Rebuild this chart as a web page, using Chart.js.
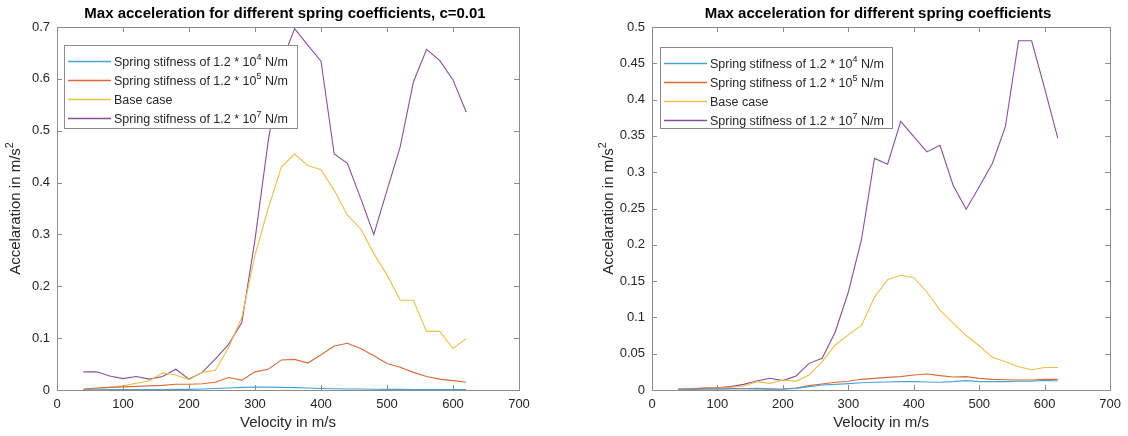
<!DOCTYPE html>
<html>
<head>
<meta charset="utf-8">
<title>Max acceleration for different spring coefficients</title>
<script src="https://cdn.jsdelivr.net/npm/chart.js"></script>
<style>
  body { margin: 0; background: #ffffff; }
  #wrap { position: relative; width: 1128px; height: 436px; }
  canvas { position: absolute; top: 0; }
</style>
</head>
<body>
<div id="wrap">
  <canvas id="left" width="564" height="436" style="left:0"></canvas>
  <canvas id="right" width="564" height="436" style="left:564px"></canvas>
</div>
<script>
// velocity samples (m/s), shared by both runs
var velocity = [40, 60, 80, 100, 120, 140, 160, 180, 200, 220, 240, 260, 280, 300, 320,
                340, 360, 380, 400, 420, 440, 460, 480, 500, 520, 540, 560, 580, 600, 620];

// run with damping c = 0.01
var k4Damped = [0.0003, 0.0005, 0.0007, 0.001, 0.001, 0.001, 0.001, 0.0012, 0.0013, 0.002,
                0.003, 0.004, 0.005, 0.0055, 0.0055, 0.005, 0.0045, 0.004, 0.003, 0.0025,
                0.002, 0.0018, 0.0015, 0.0013, 0.0012, 0.001, 0.001, 0.001, 0.001, 0.001];
var k5Damped = [0.002, 0.004, 0.005, 0.006, 0.007, 0.008, 0.009, 0.011, 0.011, 0.012,
                0.015, 0.024, 0.019, 0.035, 0.040, 0.058, 0.059, 0.052, 0.068, 0.085,
                0.090, 0.080, 0.066, 0.051, 0.044, 0.034, 0.026, 0.021, 0.018, 0.015];
var baseDamped = [0.001, 0.003, 0.005, 0.008, 0.013, 0.018, 0.033, 0.029, 0.020, 0.034,
                  0.038, 0.082, 0.140, 0.260, 0.350, 0.430, 0.455, 0.433, 0.425, 0.385,
                  0.337, 0.311, 0.263, 0.222, 0.173, 0.173, 0.113, 0.113, 0.080, 0.099];
var k7Damped = [0.035, 0.035, 0.027, 0.022, 0.026, 0.021, 0.026, 0.040, 0.021, 0.034,
                0.060, 0.088, 0.130, 0.290, 0.480, 0.630, 0.697, 0.665, 0.634, 0.455,
                0.437, 0.370, 0.300, 0.385, 0.469, 0.594, 0.657, 0.635, 0.598, 0.536];

// run without the damping term
var k4 = [0.0005, 0.0007, 0.001, 0.0012, 0.0014, 0.0018, 0.0023, 0.0015, 0.001, 0.0023,
          0.0046, 0.0069, 0.0078, 0.0088, 0.010, 0.0106, 0.011, 0.0115, 0.0115, 0.011,
          0.0106, 0.0115, 0.0129, 0.0115, 0.0115, 0.0115, 0.012, 0.012, 0.0133, 0.0124];
var k5 = [0.001, 0.0018, 0.0023, 0.0028, 0.0023, 0.0018, 0.0014, 0.001, 0.0014, 0.0028,
          0.006, 0.0083, 0.0106, 0.012, 0.0147, 0.016, 0.0174, 0.0184, 0.0207, 0.022,
          0.0198, 0.018, 0.0184, 0.016, 0.0147, 0.0142, 0.0138, 0.0138, 0.0147, 0.0147];
var base = [0.0014, 0.0018, 0.0023, 0.0032, 0.0037, 0.0055, 0.0115, 0.0092, 0.0138, 0.0119,
            0.0207, 0.039, 0.062, 0.076, 0.089, 0.128, 0.152, 0.158, 0.155, 0.135,
            0.110, 0.092, 0.075, 0.061, 0.045, 0.039, 0.032, 0.028, 0.031, 0.031];
var k7 = [0.0014, 0.0018, 0.0028, 0.0032, 0.0046, 0.0078, 0.0124, 0.0161, 0.0129, 0.0193,
          0.0367, 0.0436, 0.080, 0.135, 0.207, 0.319, 0.311, 0.370, 0.349, 0.328,
          0.337, 0.282, 0.249, 0.280, 0.312, 0.363, 0.481, 0.481, 0.415, 0.347];

var seriesNames = [
    [['Spring stifness of 1.2 * 10', 0], ['4', 1], [' N/m', 0]],
    [['Spring stifness of 1.2 * 10', 0], ['5', 1], [' N/m', 0]],
    [['Base case', 0]],
    [['Spring stifness of 1.2 * 10', 0], ['7', 1], [' N/m', 0]]
];
var seriesColors = ['#4aa2d6', '#dc6a35', '#eebf4a', '#8a4f9a'];

var FONT = '"Liberation Sans", Arial, Helvetica, sans-serif';
var FRAME = '#8c8c8c';
var INK = '#262626';

// text with superscript pieces: parts = [[text, isSup], ...]
function partsWidth(ctx, parts, size) {
    var w = 0;
    parts.forEach(function (p) {
        ctx.font = (p[1] ? size * 0.72 : size) + 'px ' + FONT;
        w += ctx.measureText(p[0]).width;
    });
    return w;
}
function drawParts(ctx, parts, x, y, size) {
    ctx.textBaseline = 'alphabetic';
    ctx.textAlign = 'left';
    parts.forEach(function (p) {
        var s = p[1] ? size * 0.72 : size;
        ctx.font = s + 'px ' + FONT;
        ctx.fillText(p[0], x, p[1] ? y - size * 0.42 : y);
        x += ctx.measureText(p[0]).width;
    });
}

// box, inward ticks on all four sides, titles and the legend
var matlabFrame = {
    id: 'matlabFrame',
    afterDraw: function (chart) {
        var o = chart.options.plugins.matlabFrame;
        var ctx = chart.ctx, a = chart.chartArea;
        var xs = chart.scales.x, ys = chart.scales.y;
        ctx.save();
        ctx.strokeStyle = FRAME;
        ctx.lineWidth = 1;
        ctx.strokeRect(Math.round(a.left) + 0.5, Math.round(a.top) + 0.5,
                       Math.round(a.right - a.left), Math.round(a.bottom - a.top));
        ctx.beginPath();
        xs.ticks.forEach(function (t) {
            var px = Math.round(xs.getPixelForValue(t.value)) + 0.5;
            ctx.moveTo(px, a.bottom); ctx.lineTo(px, a.bottom - 5);
            ctx.moveTo(px, a.top); ctx.lineTo(px, a.top + 5);
        });
        ys.ticks.forEach(function (t) {
            var py = Math.round(ys.getPixelForValue(t.value)) + 0.5;
            ctx.moveTo(a.left, py); ctx.lineTo(a.left + 5, py);
            ctx.moveTo(a.right, py); ctx.lineTo(a.right - 5, py);
        });
        ctx.stroke();

        var cx = (a.left + a.right) / 2;
        ctx.fillStyle = '#000';
        ctx.font = 'bold 15px ' + FONT;
        ctx.textAlign = 'center';
        ctx.textBaseline = 'middle';
        ctx.fillText(o.title, cx - 3, 14);

        ctx.fillStyle = INK;
        ctx.font = '15px ' + FONT;
        ctx.fillText('Velocity in m/s', cx, 423);

        var yl = [['Accelaration in m/s', 0], ['2', 1]];
        var w = partsWidth(ctx, yl, 15);
        ctx.save();
        ctx.translate(o.yLabelX, (a.top + a.bottom) / 2);
        ctx.rotate(-Math.PI / 2);
        drawParts(ctx, yl, -w / 2, 5.5, 15);
        ctx.restore();

        // legend box
        var L = o.legend;
        ctx.fillStyle = '#fff';
        ctx.fillRect(L.x, L.y, L.w, L.h);
        ctx.strokeStyle = FRAME;
        ctx.strokeRect(L.x + 0.5, L.y + 0.5, L.w, L.h);
        ctx.lineWidth = 1.4;
        seriesNames.forEach(function (parts, i) {
            var ry = L.y + 16 + i * 19;
            ctx.strokeStyle = seriesColors[i];
            ctx.beginPath();
            ctx.moveTo(L.x + 4, ry + 0.5);
            ctx.lineTo(L.x + 47, ry + 0.5);
            ctx.stroke();
            ctx.fillStyle = INK;
            drawParts(ctx, parts, L.x + 50, ry + 4.5, 12.5);
        });
        ctx.restore();
    }
};

function points(ys) {
    return velocity.map(function (v, i) { return { x: v, y: ys[i] }; });
}

function makeChart(id, data, yMax, yStep, yWidth, padRight, title, yLabelX, legend) {
    new Chart(document.getElementById(id), {
        type: 'line',
        data: {
            datasets: data.map(function (d, i) {
                return {
                    data: points(d),
                    borderColor: seriesColors[i],
                    borderWidth: 1.1,
                    pointRadius: 0,
                    tension: 0
                };
            })
        },
        plugins: [matlabFrame],
        options: {
            responsive: false,
            animation: false,
            devicePixelRatio: 1,
            layout: { padding: { top: 27, right: padRight, left: 0, bottom: 0 } },
            plugins: {
                legend: { display: false },
                tooltip: { enabled: false },
                matlabFrame: { title: title, yLabelX: yLabelX, legend: legend }
            },
            scales: {
                x: {
                    type: 'linear', min: 0, max: 700,
                    ticks: { stepSize: 100, maxRotation: 0, autoSkip: false, padding: 7,
                             color: INK, font: { family: FONT, size: 13 } },
                    grid: { display: false, drawTicks: false },
                    border: { display: false },
                    afterFit: function (s) { s.height = 46; }
                },
                y: {
                    min: 0, max: yMax,
                    ticks: { stepSize: yStep, padding: 7, color: INK,
                             font: { family: FONT, size: 13 },
                             callback: function (v) { return String(+v.toFixed(2)); } },
                    grid: { display: false, drawTicks: false },
                    border: { display: false },
                    afterFit: function (s) { s.width = yWidth; }
                }
            }
        }
    });
}

makeChart('left', [k4Damped, k5Damped, baseDamped, k7Damped], 0.7, 0.1, 57, 45,
          'Max acceleration for different spring coefficients, c=0.01', 14,
          { x: 64, y: 45, w: 233, h: 83 });
makeChart('right', [k4, k5, base, k7], 0.5, 0.05, 88, 15,
          'Max acceleration for different spring coefficients', 43,
          { x: 96, y: 47, w: 232, h: 81 });
</script>
</body>
</html>
